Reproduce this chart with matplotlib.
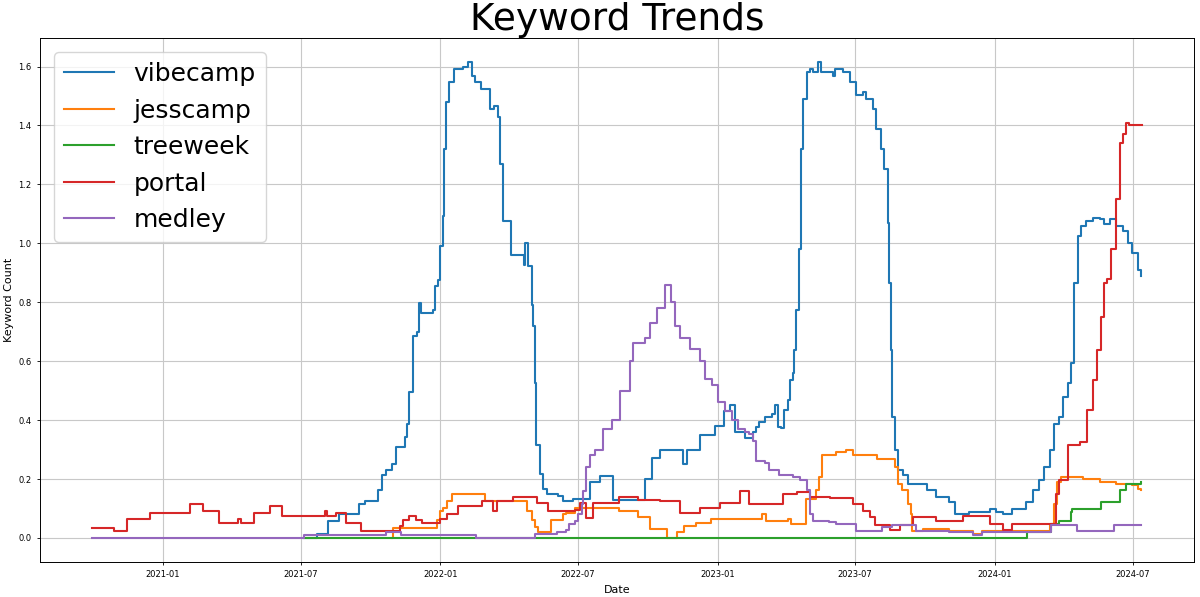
import matplotlib
matplotlib.use("Agg")
import matplotlib.pyplot as plt
import matplotlib.dates as mdates
import pandas as pd

# keyword series (change points, held until the next one)
vibecamp_dates = [
    "2021-07-05", "2021-07-22", "2021-08-06", "2021-08-20", "2021-09-16", "2021-09-24",
    "2021-10-11", "2021-10-16", "2021-10-22", "2021-10-29", "2021-11-04", "2021-11-15",
    "2021-11-18", "2021-11-21", "2021-11-26", "2021-12-01", "2021-12-04", "2021-12-06",
    "2021-12-22", "2021-12-25", "2021-12-29", "2022-01-01", "2022-01-04", "2022-01-06",
    "2022-01-09", "2022-01-13", "2022-01-19", "2022-01-31", "2022-02-06", "2022-02-11",
    "2022-02-15", "2022-02-24", "2022-03-07", "2022-03-12", "2022-03-18", "2022-03-20",
    "2022-03-25", "2022-04-04", "2022-04-21", "2022-04-23", "2022-04-26", "2022-05-01",
    "2022-05-03", "2022-05-05", "2022-05-07", "2022-05-12", "2022-05-16", "2022-05-21",
    "2022-06-05", "2022-06-11", "2022-06-25", "2022-07-17", "2022-07-30", "2022-08-16",
    "2022-09-27", "2022-10-07", "2022-10-17", "2022-11-16", "2022-11-22", "2022-12-09",
    "2022-12-28", "2023-01-10", "2023-01-17", "2023-01-24", "2023-02-06", "2023-02-16",
    "2023-02-20", "2023-02-25", "2023-03-04", "2023-03-13", "2023-03-17", "2023-03-22",
    "2023-03-26", "2023-03-30", "2023-04-03", "2023-04-06", "2023-04-10", "2023-04-12",
    "2023-04-14", "2023-04-18", "2023-04-21", "2023-04-23", "2023-04-28", "2023-05-02",
    "2023-05-06", "2023-05-13", "2023-05-17", "2023-06-02", "2023-06-04", "2023-06-15",
    "2023-06-24", "2023-07-02", "2023-07-11", "2023-07-15", "2023-07-24", "2023-07-28",
    "2023-08-04", "2023-08-08", "2023-08-13", "2023-08-15", "2023-08-17", "2023-08-19",
    "2023-08-22", "2023-08-26", "2023-09-02", "2023-09-08", "2023-10-04", "2023-10-15",
    "2023-11-02", "2023-11-10", "2023-11-28", "2023-12-25", "2024-01-02", "2024-01-11",
    "2024-01-24", "2024-02-11", "2024-02-20", "2024-02-28", "2024-03-06", "2024-03-13",
    "2024-03-19", "2024-03-26", "2024-03-30", "2024-04-06", "2024-04-10", "2024-04-14",
    "2024-04-19", "2024-04-23", "2024-04-30", "2024-05-09", "2024-05-18", "2024-05-24",
    "2024-05-31", "2024-06-08", "2024-06-17", "2024-06-24", "2024-06-30", "2024-07-07",
    "2024-07-11",
]
vibecamp_vals = [
    0.0, 0.014, 0.059, 0.08, 0.116, 0.125,
    0.161, 0.212, 0.232, 0.25, 0.309, 0.343,
    0.388, 0.496, 0.684, 0.70, 0.797, 0.763,
    0.774, 0.854, 0.877, 0.99, 1.092, 1.32,
    1.479, 1.547, 1.592, 1.598, 1.615, 1.569,
    1.547, 1.524, 1.456, 1.467, 1.428, 1.268,
    1.075, 0.962, 0.928, 1.0, 0.922, 0.791,
    0.718, 0.525, 0.315, 0.218, 0.167, 0.15,
    0.144, 0.125, 0.133, 0.19, 0.21, 0.13,
    0.2, 0.27, 0.3, 0.25, 0.3, 0.35,
    0.38, 0.43, 0.45, 0.36, 0.34, 0.36,
    0.377, 0.394, 0.411, 0.42, 0.451, 0.377,
    0.372, 0.434, 0.468, 0.536, 0.559, 0.638,
    0.774, 0.979, 1.32, 1.49, 1.58, 1.592,
    1.58, 1.615, 1.58, 1.569, 1.592, 1.58,
    1.547, 1.502, 1.513, 1.49, 1.456, 1.388,
    1.32, 1.252, 1.07, 0.865, 0.638, 0.411,
    0.297, 0.23, 0.212, 0.184, 0.161, 0.139,
    0.122, 0.082, 0.088, 0.099, 0.088, 0.082,
    0.099, 0.122, 0.161, 0.195, 0.241, 0.297,
    0.388, 0.411, 0.479, 0.525, 0.593, 0.865,
    1.024, 1.058, 1.075, 1.087, 1.081, 1.064,
    1.081, 1.058, 1.041, 1.0, 0.968, 0.911,
    0.888,
]

jesscamp_dates = [
    "2021-10-29", "2021-10-31", "2021-12-27", "2021-12-31", "2022-01-04", "2022-01-10",
    "2022-01-16", "2022-03-01", "2022-04-25", "2022-05-01", "2022-05-05", "2022-05-09",
    "2022-05-27", "2022-06-11", "2022-06-15", "2022-06-27", "2022-08-24", "2022-09-18",
    "2022-10-04", "2022-10-26", "2022-11-08", "2022-11-18", "2022-12-03", "2022-12-23",
    "2023-03-01", "2023-03-06", "2023-04-03", "2023-04-08", "2023-04-27", "2023-05-10",
    "2023-05-15", "2023-05-19", "2023-06-06", "2023-06-19", "2023-06-28", "2023-07-30",
    "2023-08-23", "2023-08-27", "2023-09-01", "2023-09-08", "2023-09-12", "2023-09-14",
    "2023-09-28", "2023-11-02", "2023-12-03", "2023-12-15", "2024-03-13", "2024-03-19",
    "2024-03-23", "2024-03-28", "2024-04-26", "2024-05-18", "2024-06-08", "2024-06-30",
    "2024-07-07", "2024-07-11",
]
jesscamp_vals = [
    0.0, 0.033, 0.06, 0.09, 0.10, 0.125,
    0.15, 0.125, 0.09, 0.06, 0.036, 0.02,
    0.06, 0.08, 0.085, 0.10, 0.09, 0.07,
    0.03, 0.0, 0.02, 0.04, 0.05, 0.064,
    0.08, 0.059, 0.064, 0.048, 0.133, 0.161,
    0.207, 0.28, 0.29, 0.297, 0.28, 0.269,
    0.241, 0.184, 0.161, 0.116, 0.082, 0.025,
    0.03, 0.025, 0.014, 0.025, 0.047, 0.116,
    0.19, 0.207, 0.201, 0.19, 0.184, 0.178,
    0.167, 0.161,
]

treeweek_dates = [
    "2021-07-05", "2024-02-12", "2024-03-15", "2024-03-26", "2024-04-10", "2024-04-12",
    "2024-05-20", "2024-06-13", "2024-06-22", "2024-07-11",
]
treeweek_vals = [0.0, 0.02, 0.047, 0.059, 0.088, 0.099, 0.122, 0.161, 0.184, 0.19]

portal_dates = [
    "2020-09-30", "2020-10-28", "2020-11-15", "2020-12-15", "2021-02-05", "2021-02-22",
    "2021-03-15", "2021-04-09", "2021-04-14", "2021-05-01", "2021-05-22", "2021-06-06",
    "2021-08-02", "2021-08-05", "2021-08-17", "2021-08-30", "2021-09-19", "2021-11-09",
    "2021-11-13", "2021-11-21", "2021-11-30", "2021-12-08", "2022-01-01", "2022-01-10",
    "2022-01-24", "2022-02-25", "2022-03-11", "2022-03-17", "2022-04-07", "2022-05-08",
    "2022-05-23", "2022-06-27", "2022-07-04", "2022-07-12", "2022-07-21", "2022-07-30",
    "2022-08-24", "2022-09-18", "2022-10-17", "2022-11-12", "2022-12-09", "2023-01-04",
    "2023-01-30", "2023-02-11", "2023-03-28", "2023-04-15", "2023-05-02", "2023-05-29",
    "2023-06-28", "2023-07-11", "2023-07-20", "2023-07-27", "2023-08-16", "2023-08-29",
    "2023-09-15", "2023-10-16", "2023-11-20", "2023-12-25", "2024-01-11", "2024-01-24",
    "2024-03-13", "2024-03-22", "2024-03-26", "2024-04-06", "2024-04-22", "2024-05-01",
    "2024-05-09", "2024-05-15", "2024-05-20", "2024-05-24", "2024-05-28", "2024-06-02",
    "2024-06-09", "2024-06-13", "2024-06-17", "2024-06-22", "2024-06-26", "2024-07-12",
]
portal_vals = [
    0.035, 0.025, 0.065, 0.084, 0.116, 0.091,
    0.05, 0.065, 0.05, 0.084, 0.107, 0.075,
    0.09, 0.075, 0.084, 0.05, 0.025, 0.041,
    0.061, 0.075, 0.061, 0.05, 0.065, 0.082,
    0.11, 0.125, 0.09, 0.125, 0.14, 0.12,
    0.09, 0.095, 0.117, 0.066, 0.117, 0.12,
    0.14, 0.13, 0.125, 0.085, 0.10, 0.12,
    0.16, 0.116, 0.15, 0.155, 0.14, 0.135,
    0.116, 0.093, 0.07, 0.044, 0.027, 0.044,
    0.07, 0.058, 0.074, 0.047, 0.027, 0.047,
    0.047, 0.15, 0.195, 0.315, 0.325, 0.434,
    0.536, 0.638, 0.75, 0.865, 0.88, 0.979,
    1.15, 1.34, 1.37, 1.41, 1.40, 1.40,
]

medley_dates = [
    "2020-09-30", "2021-07-05", "2021-10-22", "2021-11-10", "2022-02-17", "2022-05-05",
    "2022-06-04", "2022-06-15", "2022-06-20", "2022-06-27", "2022-07-01", "2022-07-06",
    "2022-07-08", "2022-07-12", "2022-07-17", "2022-07-23", "2022-07-30", "2022-08-03",
    "2022-08-15", "2022-08-25", "2022-09-07", "2022-09-11", "2022-09-27", "2022-10-04",
    "2022-10-13", "2022-10-24", "2022-10-31", "2022-11-06", "2022-11-13", "2022-11-26",
    "2022-12-09", "2022-12-16", "2022-12-25", "2023-01-02", "2023-01-11", "2023-01-20",
    "2023-01-28", "2023-02-06", "2023-02-11", "2023-02-16", "2023-02-20", "2023-03-04",
    "2023-03-10", "2023-03-23", "2023-04-10", "2023-04-19", "2023-04-28", "2023-05-02",
    "2023-05-06", "2023-05-28", "2023-06-06", "2023-07-02", "2023-08-05", "2023-08-19",
    "2023-09-19", "2023-11-02", "2023-12-03", "2023-12-15", "2024-03-15", "2024-04-18",
    "2024-06-06", "2024-07-11",
]
medley_vals = [
    0.0, 0.01, 0.02, 0.01, 0.0, 0.015,
    0.02, 0.026, 0.047, 0.059, 0.08, 0.116,
    0.16, 0.24, 0.28, 0.297, 0.30, 0.37,
    0.40, 0.50, 0.60, 0.66, 0.68, 0.73,
    0.78, 0.86, 0.80, 0.72, 0.68, 0.64,
    0.60, 0.54, 0.52, 0.46, 0.43, 0.40,
    0.37, 0.36, 0.354, 0.33, 0.26, 0.254,
    0.232, 0.212, 0.207, 0.195, 0.161, 0.082,
    0.059, 0.054, 0.048, 0.025, 0.036, 0.043,
    0.025, 0.02, 0.009, 0.02, 0.043, 0.025,
    0.043, 0.043,
]

keywords = ["vibecamp", "jesscamp", "treeweek", "portal", "medley"]
series = {
    "vibecamp": (vibecamp_dates, vibecamp_vals),
    "jesscamp": (jesscamp_dates, jesscamp_vals),
    "treeweek": (treeweek_dates, treeweek_vals),
    "portal": (portal_dates, portal_vals),
    "medley": (medley_dates, medley_vals),
}
colors = ["#1f77b4", "#ff7f0e", "#2ca02c", "#d62728", "#9467bd"]

fig = plt.figure(figsize=(12, 5.97), dpi=100)
ax = fig.add_axes([0.0333, 0.0591, 0.9617, 0.8767])

for kw, c in zip(keywords, colors):
    d, v = series[kw]
    ax.plot(pd.to_datetime(d), v, color=c, lw=1.5, drawstyle="steps-post", label=kw)

ax.set_title("Keyword Trends", fontsize=27, pad=4)
ax.set_xlabel("Date", fontsize=8)
ax.set_ylabel("Keyword Count", fontsize=8, labelpad=3)
ax.xaxis.set_major_locator(mdates.MonthLocator(bymonth=[1, 7]))
ax.xaxis.set_major_formatter(mdates.DateFormatter("%Y-%m"))
ax.tick_params(labelsize=6, length=2.5, width=0.6)
ax.grid(True, color="#c8c8c8", lw=0.8)
for s in ax.spines.values():
    s.set_linewidth(0.7)
ax.legend(loc="upper left", fontsize=18, borderaxespad=0.55)

fig.savefig("out.png", dpi=100)
